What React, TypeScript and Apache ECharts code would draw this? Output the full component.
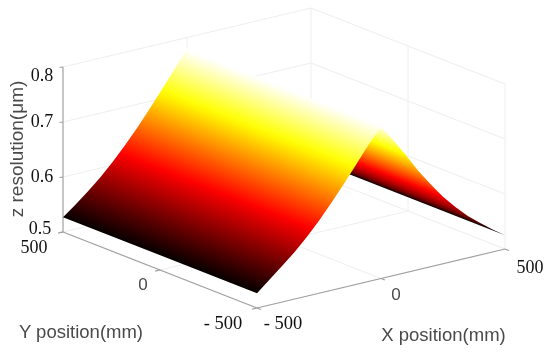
import React, { useEffect, useRef } from "react";
import * as echarts from "echarts";

const xPositions = [-500,-450,-400,-350,-300,-250,-200,-150,-100,-50,0,50,100,150,200,250,300,350,400,450,500];
const zAtYMinus500 = [0.527,0.546,0.565,0.585,0.607,0.632,0.659,0.688,0.718,0.749,0.776,0.746,0.714,0.68,0.65,0.622,0.598,0.576,0.558,0.541,0.525];
const zAtYPlus500 = [0.527,0.544,0.563,0.583,0.606,0.631,0.658,0.687,0.717,0.748,0.78,0.748,0.716,0.684,0.654,0.626,0.6,0.578,0.558,0.541,0.525];
const xTicks = [-500,0,500];
const yTicks = [-500,0,500];
const zTicks = [0.5,0.6,0.7,0.8];

const serif = "'Liberation Serif', serif";
const sans = "'Liberation Sans', sans-serif";
const WALL = "#eeeeee";
const AXIS = "#a0a0a0";
const INK = "#111111";
const SOFT = "#4a4a4a";

const tickLabels = [
  { text: "0.8", x: 42, y: 75, font: serif, size: 18, fill: INK },
  { text: "0.7", x: 42, y: 121, font: serif, size: 18, fill: INK },
  { text: "0.6", x: 42, y: 176, font: serif, size: 18, fill: INK },
  { text: "0.5", x: 40, y: 228, font: serif, size: 18, fill: INK },
  { text: "500", x: 34, y: 247, font: serif, size: 18, fill: INK },
  { text: "0", x: 143, y: 284, font: sans, size: 17, fill: SOFT },
  { text: "- 500", x: 223, y: 323, font: serif, size: 18.5, fill: INK },
  { text: "- 500", x: 283, y: 323, font: serif, size: 18.5, fill: INK },
  { text: "0", x: 396, y: 294, font: sans, size: 17, fill: SOFT },
  { text: "500", x: 530, y: 267, font: serif, size: 18, fill: INK },
];

// Projection of the plot box on the page.
const project = (x: number, y: number, z: number): [number, number] => [
  284 + (x / 500) * 124 + (y / 500) * -97,
  240.5 + (x / 500) * -29.5 + (y / 500) * -38 - (z - 0.5) * 550,
];

const HOT: [number, number[]][] = [
  [0, [0, 0, 0]],
  [0.375, [255, 0, 0]],
  [0.75, [255, 255, 0]],
  [1, [255, 255, 255]],
];
const zMin = 0.525;
const zMax = 0.7775;
const hot = (z: number) => {
  const f = Math.max(0, Math.min(1, (z - zMin) / (zMax - zMin)));
  for (let i = 1; i < HOT.length; i++) {
    if (f <= HOT[i][0]) {
      const t = (f - HOT[i - 1][0]) / (HOT[i][0] - HOT[i - 1][0]);
      const c = HOT[i - 1][1].map((a, k) => Math.round(a + (HOT[i][1][k] - a) * t));
      return `rgb(${c[0]},${c[1]},${c[2]})`;
    }
  }
  return "#fff";
};

type Seg = [number, number, number, number, number, number, number];
const segments: Seg[] = [];
const W = 0;
const A = 1;
// walls
zTicks.slice(1).forEach((z) => {
  segments.push([-500, 500, z, 500, 500, z, W]);
  segments.push([500, 500, z, 500, -500, z, W]);
});
// verticals
xTicks.slice(1).forEach((x) => segments.push([x, 500, 0.5, x, 500, 0.8, W]));
yTicks.slice(0, 2).forEach((y) => segments.push([500, y, 0.5, 500, y, 0.8, W]));
// floor
yTicks.slice(1).forEach((y) => segments.push([-500, y, 0.5, 500, y, 0.5, W]));
xTicks.slice(1).forEach((x) => segments.push([x, -500, 0.5, x, 500, 0.5, W]));
// axes
segments.push([-500, 500, 0.5, -500, 500, 0.8, A]);
segments.push([-500, 500, 0.5, -500, -500, 0.5, A]);
segments.push([-500, -500, 0.5, 500, -500, 0.5, A]);
// ticks
zTicks.forEach((z) => segments.push([-500, 500, z, -512, 503, z, A]));
yTicks.forEach((y) => segments.push([-500, y, 0.5, -520, y, 0.5, A]));
xTicks.forEach((x) => segments.push([x, -500, 0.5, x, -520, 0.5, A]));

// iso-colour lines run along the screen direction of the Y axis
const dir = [194, 76];
const len = Math.hypot(dir[0], dir[1]);
const n = [dir[1] / len, -dir[0] / len];
const along = (p: number[]) => p[0] * n[0] + p[1] * n[1];

const faces = [
  { from: 10, to: 20 },
  { from: 0, to: 10 },
];

export default function App() {
  const ref = useRef<HTMLDivElement>(null);
  useEffect(() => {
    const chart = echarts.init(ref.current!, undefined, { renderer: "svg" });
    chart.setOption({
      animation: false,
      backgroundColor: "#ffffff",
      grid: { left: 0, right: 0, top: 0, bottom: 0 },
      xAxis: { type: "value", min: 0, max: 550, show: false },
      yAxis: { type: "value", min: 0, max: 352, inverse: true, show: false },
      graphic: [
        ...tickLabels.map((l) => ({
          type: "text",
          x: l.x,
          y: l.y,
          style: { text: l.text, fill: l.fill, font: `${l.size}px ${l.font}`, align: "center", verticalAlign: "middle" },
        })),
        { type: "text", x: 81, y: 331, style: { text: "Y position(mm)", fill: SOFT, font: `18.5px ${sans}`, align: "center", verticalAlign: "middle" } },
        { type: "text", x: 443.5, y: 334, style: { text: "X position(mm)", fill: SOFT, font: `18.5px ${sans}`, align: "center", verticalAlign: "middle" } },
        { type: "text", x: 16, y: 149, rotation: Math.PI / 2, style: { text: "z resolution(μm)", fill: SOFT, font: `19px ${sans}`, align: "center", verticalAlign: "middle" } },
      ],
      series: [
        {
          type: "custom",
          coordinateSystem: "cartesian2d",
          silent: true,
          z: 1,
          data: segments,
          clip: false,
          renderItem: (_p: any, api: any) => {
            const a = project(api.value(0), api.value(1), api.value(2));
            const b = project(api.value(3), api.value(4), api.value(5));
            const pa = api.coord(a);
            const pb = api.coord(b);
            return {
              type: "line",
              shape: { x1: pa[0], y1: pa[1], x2: pb[0], y2: pb[1] },
              style: { stroke: api.value(6) === A ? AXIS : WALL, lineWidth: api.value(6) === A ? 1.2 : 1 },
            };
          },
        },
        {
          type: "custom",
          coordinateSystem: "cartesian2d",
          silent: true,
          z: 2,
          clip: false,
          data: faces.map((f) => [f.from, f.to]),
          renderItem: (_p: any, api: any) => {
            const from = api.value(0);
            const to = api.value(1);
            const pts: number[][] = [];
            for (let i = from; i <= to; i++) pts.push(api.coord(project(xPositions[i], -500, zAtYMinus500[i])));
            for (let i = to; i >= from; i--) pts.push(api.coord(project(xPositions[i], 500, zAtYPlus500[i])));
            const samples: { s: number; z: number }[] = [];
            for (let i = from; i <= to; i++) {
              const z = (zAtYMinus500[i] + zAtYPlus500[i]) / 2;
              samples.push({ s: along(api.coord(project(xPositions[i], 0, z))), z });
            }
            const fine: { s: number; z: number }[] = [];
            samples.forEach((c, i) => {
              if (i === 0) { fine.push(c); return; }
              const p = samples[i - 1];
              for (let k = 1; k <= 4; k++) fine.push({ s: p.s + ((c.s - p.s) * k) / 4, z: p.z + ((c.z - p.z) * k) / 4 });
            });
            const ss = fine.map((q) => q.s);
            const s0 = Math.min(...ss);
            const s1 = Math.max(...ss);
            const stops = fine
              .map((q) => ({ offset: (q.s - s0) / (s1 - s0), color: hot(q.z) }))
              .sort((a, b) => a.offset - b.offset);
            const fill = new echarts.graphic.LinearGradient(n[0] * s0, n[1] * s0, n[0] * s1, n[1] * s1, stops, true);
            return { type: "polygon", shape: { points: pts }, style: { fill, stroke: "none" } };
          },
        },
      ],
    });
    return () => chart.dispose();
  }, []);
  return <div ref={ref} style={{ position: "absolute", left: 0, top: 0, width: 550, height: 352, filter: "blur(0.5px)" }} />;
}
